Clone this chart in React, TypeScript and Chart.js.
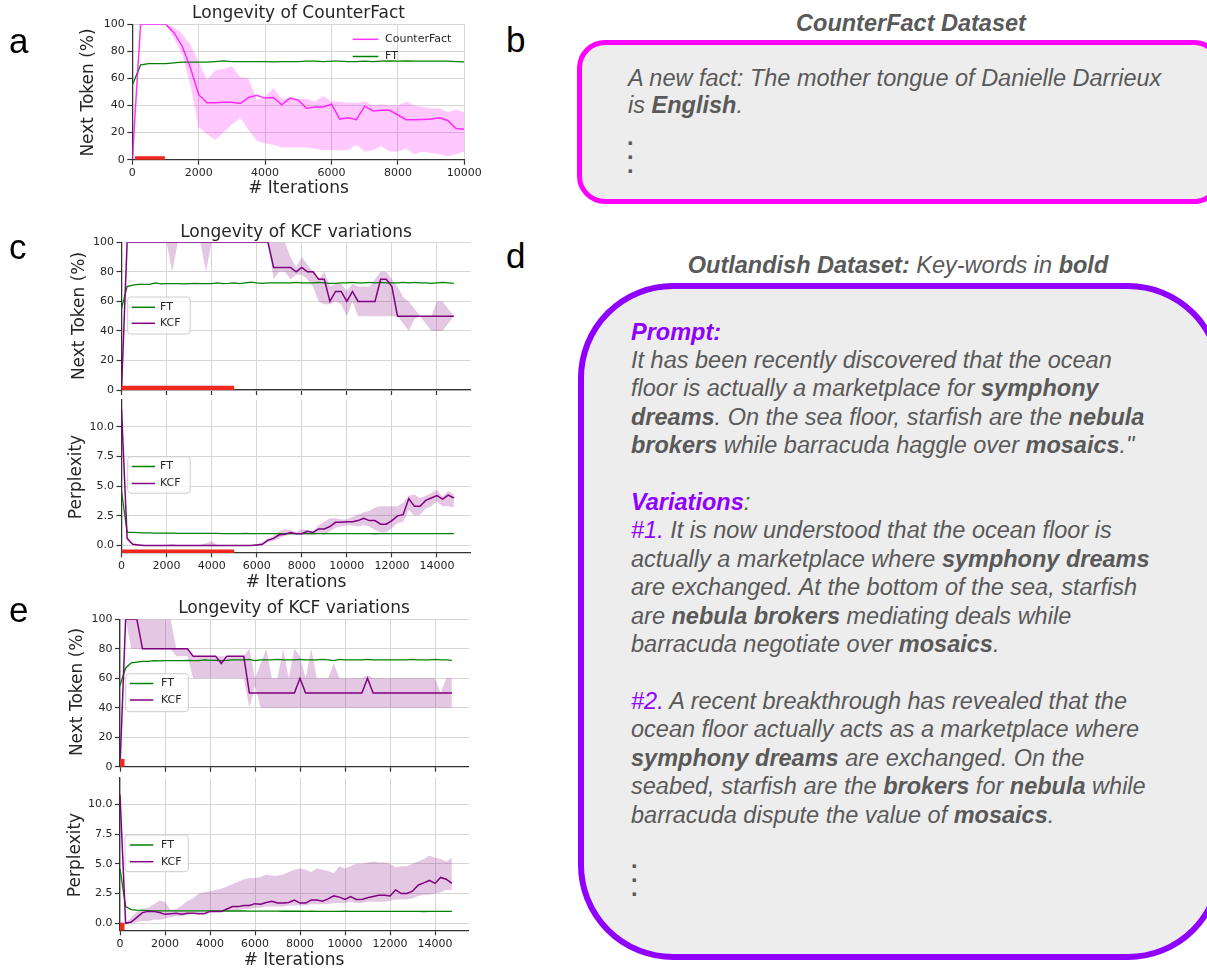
import React, { useEffect, useRef } from "react";
import { Chart, registerables } from "chart.js";
Chart.register(...registerables);

// ---------------- data ----------------
const SERIES_CF = "CounterFact";
const SERIES_FT = "FT";
const SERIES_KCF = "KCF";

const ITER_A = [
  0, 250, 500, 750, 1000, 1250, 1500, 1750, 2000, 2250, 2500, 2750, 3000, 3250, 3500, 3750, 4000, 4250, 4500, 4750,
  5000, 5250, 5500, 5750, 6000, 6250, 6500, 6750, 7000, 7250, 7500, 7750, 8000, 8250, 8500, 8750, 9000, 9250, 9500,
  9750, 10000,
];
const ITER_K = [
  0, 250, 500, 750, 1000, 1250, 1500, 1750, 2000, 2250, 2500, 2750, 3000, 3250, 3500, 3750, 4000, 4250, 4500, 4750,
  5000, 5250, 5500, 5750, 6000, 6250, 6500, 6750, 7000, 7250, 7500, 7750, 8000, 8250, 8500, 8750, 9000, 9250, 9500,
  9750, 10000, 10250, 10500, 10750, 11000, 11250, 11500, 11750, 12000, 12250, 12500, 12750, 13000, 13250, 13500,
  13750, 14000, 14250, 14500, 14750,
];

const X_TICKS_A = [0, 2000, 4000, 6000, 8000, 10000];
const X_TICKS_K = [0, 2000, 4000, 6000, 8000, 10000, 12000, 14000];
const Y_TICKS_PCT = [0, 20, 40, 60, 80, 100];
const Y_TICKS_PPL = [0.0, 2.5, 5.0, 7.5, 10.0];

// panel a
const CF_MEAN = [0, 100, 100, 100, 100, 94, 84, 68, 48, 42, 42, 42.5, 42.5, 41.5, 46, 47.5, 45.5, 46, 40.5, 45.5, 44, 38, 39, 39, 41, 30, 31, 29.5, 39.5, 36, 36.5, 36.5, 33, 29.5, 29.5, 29.7, 30, 31, 29, 23, 22.5];
const CF_UPPER = [0, 100, 100, 100, 100, 98, 93, 85, 72, 59, 66, 67, 69, 61, 60, 44, 46.5, 53, 45, 46, 45, 45, 43, 47, 43, 43, 42, 42, 43, 40, 41, 40, 40, 43, 40, 39, 38, 38, 35, 37, 35];
const CF_LOWER = [0, 100, 100, 100, 100, 90, 78, 55, 24, 19, 14.5, 20, 26, 31, 22, 14, 12, 11, 9, 9, 9, 9, 8, 7, 7, 7, 7, 11, 6, 7, 10, 6, 6, 8, 4, 6, 5, 4, 2.5, 4, 6];
const FT_A = [55, 70, 71, 71, 71, 71.5, 72, 72, 72, 72, 72.5, 73, 72.5, 72.5, 72.5, 72.5, 72.5, 72.2, 72.5, 72.5, 72.5, 72.8, 72.8, 72.5, 72.8, 72.8, 72.5, 72.5, 72.8, 72.5, 72.8, 73, 72.8, 73, 72.8, 72.8, 72.8, 72.8, 72.8, 72.5, 72.3];
const RED_A = [80, 980];
const RED_A_LEVEL = 1.3;

// panel c (top: next token, bottom: perplexity)
const KCF_C_TOKEN = [0,
  100, 100, 100, 100, 100, 100, 100, 100, 100, 100, 100, 100, 100, 100, 100, 100, 100, 100, 100, 100, 100, 100, 100, 100, 100, 100,
  83, 83, 83, 83, 80, 83, 80, 80, 75, 75, 60, 66.7, 66.7, 60, 66.7, 60, 60, 60, 60, 75, 75, 70,
  50, 50, 50, 50, 50, 50, 50, 50, 50, 50, 50];
const KCF_C_TOKEN_UP = [0,
  100, 100, 100, 100, 100, 100, 100, 100, 100, 100, 100, 100, 100, 100, 100, 100, 100, 100, 100, 100, 100, 100, 100, 100, 100, 100, 100, 100, 100,
  90, 83, 90, 85, 80, 75, 80, 70, 72, 72, 67, 72, 70, 70, 70, 75, 80, 80, 75, 70, 63, 60, 55, 50, 50, 50, 60, 60, 55, 50];
const KCF_C_TOKEN_LO = [0,
  100, 100, 100, 100, 100, 100, 100, 100, 80, 100, 100, 100, 100, 100, 80, 100, 100, 100, 100, 100, 100, 100, 100, 100, 100, 100,
  75, 80, 80, 75, 78, 78, 75, 70, 60, 58, 58, 60, 58, 50, 60, 50,
  50, 50, 50, 50, 50, 50, 50,
  45, 40, 48, 50, 45, 40, 40, 40, 45, 50];
const FT_C_TOKEN = [55, 70, 71, 71.5, 71.5, 71.5, 72.5, 71.8, 72, 72, 72, 71.8, 72, 72.2, 72, 72, 72, 72.5, 72, 72.2, 72.5, 72, 72.5, 73, 72.5, 72.2, 72.5, 72.5, 72.5, 72.5, 72.5, 72.8, 72.5, 72.5, 72.5, 72.8, 72.5, 72.2, 72.2, 72.5, 72.5, 72.8, 72.5, 72.5, 72.8, 72.5, 72.8, 72.5, 72.5, 72.5, 72.8, 72.5, 72.8, 72.5, 72.5, 72.2, 72.5, 72.8, 72.5, 72.2];

const KCF_C_PPL = [11.5, 0.6, 0.1, 0.05,
  0, 0, 0, 0, 0, 0, 0, 0, 0, 0, 0, 0, 0, 0, 0, 0, 0, 0, 0, 0,
  0.05, 0.1, 0.45, 0.6, 0.9, 0.95, 1.1, 1.0, 1.0, 1.2, 1.1, 1.4, 1.4, 1.6, 1.95, 1.95, 2.0, 2.0, 2.1, 2.3, 2.1, 2.1, 1.8, 1.8, 2.1, 2.5, 2.6, 3.95, 3.3, 3.3, 3.8, 4.0, 4.2, 3.9, 4.25, 4.0];
const KCF_C_PPL_UP = [11.5, 0.8, 0.15, 0.1,
  0.05, 0.05, 0.05, 0.05, 0.05, 0.15, 0.05, 0.05, 0.05, 0.05, 0.05, 0.2, 0.35, 0.05, 0.05, 0.05, 0.05, 0.05, 0.05, 0.05,
  0.1, 0.3, 0.6, 0.8, 1.2, 1.4, 1.3, 1.1, 1.4, 1.3, 1.2, 1.7, 2.0, 2.3, 2.3, 2.2, 2.2, 2.4, 2.6, 2.8, 2.9, 3.2, 3.3, 3.3, 3.3, 3.3, 3.6, 4.2, 4.3, 4.0, 4.2, 4.4, 4.7, 4.1, 4.6, 4.3];
const KCF_C_PPL_LO = [11.5, 0.4, 0.02,
  0, 0, 0, 0, 0, 0, 0, 0, 0, 0, 0, 0, 0, 0, 0, 0, 0, 0, 0, 0, 0,
  0, 0, 0.3, 0.4, 0.6, 0.8, 0.9, 0.9, 0.9, 0.9, 0.9, 1.0, 0.9, 1.2, 1.5, 1.6, 1.7, 1.7, 1.6, 1.7, 1.6, 1.3, 1.1, 1.1, 1.5, 1.9, 2.0, 3.0, 2.5, 2.6, 3.1, 3.3, 3.7, 3.3, 3.3, 3.2];
const FT_C_PPL = [4.6, 1.1, 1.1, 1.08, 1.07, 1.06, 1.05, 1.05, 1.04, 1.04, 1.03, 1.03, 1.03, 1.02, 1.02, 1.02, 1.02, 1.02, 1.01, 1.01, 1.01, 1.01, 1.02, 1.01, 1.01, 1.01, 1.01, 1.0, 1.0, 1.0, 1.01, 1.0, 1.0, 1.0, 1.0, 1.0, 1.01, 1.0, 1.0, 1.0, 1.0, 1.0, 1.0, 1.0, 1.0, 0.99, 1.0, 1.0, 1.0, 1.0, 1.0, 1.0, 1.0, 1.0, 1.0, 1.0, 1.0, 1.0, 1.0, 1.0];
const RED_C = [0, 5000];
const RED_C_TOKEN_LEVEL = 1.5;
const RED_C_PPL_LEVEL = -0.48;

// panel e
const KCF_E_TOKEN = [0, 100, 100, 100, 80, 80, 80, 80, 80, 80, 80, 80, 80, 75, 75, 75, 75, 75, 70, 75, 75, 75, 75, 50, 50, 50, 50, 50, 50, 50, 50, 50, 60, 50, 50, 50, 50, 50, 50, 50, 50, 50, 50, 50, 60, 50, 50, 50, 50, 50, 50, 50, 50, 50, 50, 50, 50, 50, 50, 50];
const KCF_E_TOKEN_UP = [0, 100, 100, 100, 100, 100, 100, 100, 100, 100, 80, 80, 80, 75, 75, 75, 75, 75, 75, 75, 75, 75, 75, 80, 60, 70, 80, 60, 60, 80, 60, 80, 75, 60, 80, 60, 60, 60, 70, 60, 60, 60, 60, 60, 62, 60, 60, 60, 60, 60, 60, 60, 60, 60, 60, 60, 60, 50, 60, 60];
const KCF_E_TOKEN_LO = [0, 100, 80, 80, 80, 80, 80, 80, 80, 80, 75, 75, 75, 60, 60, 60, 60, 60, 60, 60, 60, 60, 60, 40, 55, 40, 40, 40, 40, 40, 40, 40, 40, 40, 40, 40, 40, 40, 40, 40, 40, 40, 40, 40, 40, 40, 40, 40, 40, 40, 40, 40, 40, 40, 40, 40, 40, 40, 40, 40];
const FT_E_TOKEN = [55, 67, 70.5, 71, 71.5, 71.5, 72, 71.8, 72, 72, 72, 72, 72.2, 72, 72, 72.5, 72.2, 72.2, 72, 72.2, 72.5, 72.5, 72.5, 72.8, 72, 72.5, 72.5, 72.5, 72.8, 72.5, 72.5, 72.5, 72.8, 72.5, 72.5, 72.5, 72.8, 72.5, 72, 72.8, 72.5, 72.5, 72.5, 72.5, 72.8, 72.5, 72.5, 72.5, 72.5, 72.5, 72.5, 72.5, 72.8, 72.5, 72.5, 72.5, 72.8, 72.5, 72.5, 72.2];

const KCF_E_PPL = [10.8, 0.0, 0.1, 0.5, 0.9, 1.0, 1.0, 0.9, 0.75, 0.8, 0.85, 0.75, 0.85, 0.85, 0.8, 0.8, 1.0, 1.0, 1.0, 1.2, 1.4, 1.4, 1.5, 1.5, 1.65, 1.6, 1.75, 1.85, 1.7, 1.7, 1.75, 1.95, 1.7, 1.7, 1.95, 1.95, 1.85, 2.05, 2.3, 2.2, 2.0, 2.25, 2.0, 2.0, 2.15, 2.25, 2.35, 2.35, 2.3, 2.8, 2.5, 2.5, 2.7, 3.2, 3.4, 3.6, 3.35, 3.85, 3.7, 3.35];
const KCF_E_PPL_UP = [10.8, 0.0, 0.5, 1.0, 1.2, 1.3, 1.6, 1.9, 1.8, 1.1, 1.2, 1.5, 1.9, 2.1, 2.5, 2.6, 2.7, 2.8, 2.9, 3.1, 3.3, 3.5, 3.7, 3.8, 3.8, 3.9, 4.1, 4.0, 4.0, 4.1, 4.3, 4.5, 4.6, 4.5, 4.3, 4.6, 4.5, 4.4, 4.2, 4.8, 4.6, 4.8, 5.0, 5.0, 5.1, 5.2, 5.1, 5.1, 5.0, 4.7, 4.8, 4.8, 5.0, 5.2, 5.4, 5.7, 5.5, 5.4, 5.2, 5.5];
const KCF_E_PPL_LO = [10.8, 0.0, 0.0, 0.1, 0.2, 0.2, 0.3, 0.3, 0.4, 0.5, 0.6, 0.6, 0.7, 0.8, 0.8, 0.8, 0.9, 0.95, 1.0, 1.1, 1.1, 1.1, 1.2, 1.2, 1.3, 1.3, 1.4, 1.4, 1.4, 1.4, 1.5, 1.5, 1.5, 1.5, 1.6, 1.6, 1.6, 1.6, 1.7, 1.7, 1.7, 1.8, 1.7, 1.7, 1.8, 1.8, 1.8, 1.8, 1.9, 2.0, 2.0, 2.0, 2.1, 2.3, 2.4, 2.4, 2.5, 2.6, 2.8, 2.8];
const FT_E_PPL = [4.6, 1.4, 1.15, 1.1, 1.08, 1.06, 1.05, 1.05, 1.05, 1.05, 1.05, 1.05, 1.05, 1.04, 1.04, 1.04, 1.04, 1.04, 1.03, 1.03, 1.03, 1.03, 1.03, 1.02, 1.02, 1.02, 1.02, 1.02, 1.02, 1.01, 1.01, 1.01, 1.01, 1.0, 1.01, 1.0, 1.0, 1.0, 1.0, 1.0, 1.01, 1.0, 1.0, 1.0, 1.0, 1.0, 1.0, 1.0, 1.0, 1.0, 1.0, 1.0, 1.0, 1.0, 0.99, 1.0, 1.0, 1.0, 1.0, 1.0];
const RED_E = [0, 200];
const RED_E_TOKEN_LEVEL = 2.6;
const RED_E_PPL_LEVEL = -0.27;

// ---------------- styles ----------------
const FONT = '"DejaVu Sans", sans-serif';
const INK = "#262626";
const GRID = "#d6d6d6";
const SPINE = "#333333";
const C_MAGENTA = "rgba(255,0,255,0.8)";
const C_MAGENTA_BAND = "rgba(255,0,255,0.21)";
const C_PURPLE = "#800080";
const C_PURPLE_BAND = "rgba(128,0,128,0.22)";
const C_GREEN = "#008000";
const C_RED = "#f0281e";
Chart.defaults.font.family = FONT;

const xy = (xs: number[], ys: number[]) => xs.map((x, i) => ({ x, y: ys[i] }));

function bandSets(xs: number[], up: number[], lo: number[], color: string) {
  return [
    { label: "_up", data: xy(xs, up), borderColor: "transparent", borderWidth: 0, backgroundColor: color, fill: "+1", pointRadius: 0, order: 10 },
    { label: "_lo", data: xy(xs, lo), borderColor: "transparent", borderWidth: 0, backgroundColor: "transparent", fill: false, pointRadius: 0, order: 11 },
  ];
}
function lineSet(label: string, xs: number[], ys: number[], color: string, w: number, order: number) {
  return { label, data: xy(xs, ys), borderColor: color, borderWidth: w, fill: false, pointRadius: 0, order };
}
function redSet(span: number[], level: number, w: number) {
  return { label: "_red", data: span.map((x) => ({ x, y: level })), borderColor: C_RED, borderWidth: w, fill: false, pointRadius: 0, clip: false, order: 0 };
}

type Spec = {
  id: string;
  canvas: { x: number; y: number; w: number; h: number };
  area: { left: number; top: number; right: number; bottom: number };
  x: { min: number; max: number; ticks: number[]; labels: boolean };
  y: { min: number; max: number; ticks: number[]; fmt: (v: number) => string };
  texts: { text: string; x: number; y: number; rot?: boolean }[];
  legend: {
    frame?: { x: number; y: number; w: number; h: number };
    hx0: number; hx1: number; tx: number;
    rows: { label: string; color: string; y: number }[];
  };
  datasets: any[];
};

function makeDeco(s: Spec) {
  return {
    id: "deco",
    afterDraw(chart: any) {
      const ctx = chart.ctx as CanvasRenderingContext2D;
      const ox = s.canvas.x, oy = s.canvas.y;
      ctx.save();
      for (const t of s.texts) {
        ctx.save();
        ctx.translate(t.x - ox, t.y - oy);
        if (t.rot) ctx.rotate(-Math.PI / 2);
        ctx.font = `17px ${FONT}`;
        ctx.fillStyle = INK;
        ctx.textAlign = "center";
        ctx.textBaseline = "middle";
        ctx.fillText(t.text, 0, 0);
        ctx.restore();
      }
      const L = s.legend;
      if (L.frame) {
        ctx.beginPath();
        (ctx as any).roundRect(L.frame.x - ox, L.frame.y - oy, L.frame.w, L.frame.h, 3);
        ctx.fillStyle = "rgba(255,255,255,0.8)";
        ctx.fill();
        ctx.strokeStyle = "#cccccc";
        ctx.lineWidth = 1;
        ctx.stroke();
      }
      ctx.font = `11px ${FONT}`;
      ctx.textAlign = "left";
      ctx.textBaseline = "middle";
      for (const r of L.rows) {
        ctx.beginPath();
        ctx.moveTo(L.hx0 - ox, r.y - oy);
        ctx.lineTo(L.hx1 - ox, r.y - oy);
        ctx.strokeStyle = r.color;
        ctx.lineWidth = 1.5;
        ctx.stroke();
        ctx.fillStyle = INK;
        ctx.fillText(r.label, L.tx - ox, r.y - oy);
      }
      ctx.restore();
    },
  };
}

function buildConfig(s: Spec): any {
  const c = s.canvas, a = s.area;
  const grid = { color: GRID, lineWidth: 1, tickLength: 5, tickColor: SPINE, tickWidth: 1.2, drawTicks: true };
  const border = { display: true, color: SPINE, width: 1.25 };
  return {
    type: "line",
    data: { datasets: s.datasets },
    options: {
      responsive: false,
      maintainAspectRatio: false,
      animation: false,
      devicePixelRatio: 1,
      events: [],
      layout: { padding: { left: 0, top: a.top - c.y, right: c.x + c.w - a.right, bottom: 0 } },
      plugins: { legend: { display: false }, tooltip: { enabled: false }, title: { display: false } },
      elements: { line: { tension: 0 }, point: { radius: 0 } },
      scales: {
        x: {
          type: "linear",
          min: s.x.min,
          max: s.x.max,
          afterBuildTicks: (sc: any) => { sc.ticks = s.x.ticks.map((v) => ({ value: v })); },
          ticks: {
            autoSkip: false, maxRotation: 0, minRotation: 0, padding: 2, color: INK,
            font: { size: 11, family: FONT },
            callback: (v: any) => (s.x.labels ? String(v) : ""),
          },
          grid,
          border,
          afterFit: (sc: any) => { sc.height = c.y + c.h - a.bottom; },
        },
        y: {
          type: "linear",
          min: s.y.min,
          max: s.y.max,
          afterBuildTicks: (sc: any) => { sc.ticks = s.y.ticks.map((v) => ({ value: v })); },
          ticks: {
            autoSkip: false, padding: 2.5, color: INK,
            font: { size: 11, family: FONT },
            callback: (v: any) => s.y.fmt(Number(v)),
          },
          grid,
          border,
          afterFit: (sc: any) => { sc.width = a.left - c.x; },
        },
      },
    },
    plugins: [makeDeco(s)],
  };
}

const pct = (v: number) => String(Math.round(v));
const ppl = (v: number) => v.toFixed(1);

const SPECS: Spec[] = [
  {
    id: "a",
    canvas: { x: 0, y: 0, w: 500, h: 200 },
    area: { left: 132.3, top: 24.3, right: 464.3, bottom: 159.7 },
    x: { min: 0, max: 10000, ticks: X_TICKS_A, labels: true },
    y: { min: 0, max: 100, ticks: Y_TICKS_PCT, fmt: pct },
    texts: [
      { text: "Longevity of CounterFact", x: 298.5, y: 14 },
      { text: "# Iterations", x: 298.5, y: 189 },
      { text: "Next Token (%)", x: 89, y: 92.5, rot: true },
    ],
    legend: {
      hx0: 352.7, hx1: 378.3, tx: 385,
      rows: [
        { label: SERIES_CF, color: C_MAGENTA, y: 39.3 },
        { label: SERIES_FT, color: C_GREEN, y: 56.5 },
      ],
    },
    datasets: [
      redSet(RED_A, RED_A_LEVEL, 3.5),
      lineSet(SERIES_CF, ITER_A, CF_MEAN, C_MAGENTA, 1.5, 1),
      lineSet(SERIES_FT, ITER_A, FT_A, C_GREEN, 1.3, 2),
      ...bandSets(ITER_A, CF_UPPER, CF_LOWER, C_MAGENTA_BAND),
    ],
  },
  {
    id: "c1",
    canvas: { x: 0, y: 215, w: 500, h: 190 },
    area: { left: 121.5, top: 242.3, right: 470.75, bottom: 390 },
    x: { min: 0, max: 15500, ticks: X_TICKS_K, labels: false },
    y: { min: 0, max: 100, ticks: Y_TICKS_PCT, fmt: pct },
    texts: [
      { text: "Longevity of KCF variations", x: 296, y: 232.5 },
      { text: "Next Token (%)", x: 80, y: 316, rot: true },
    ],
    legend: {
      frame: { x: 127.7, y: 297, w: 62.5, h: 37 },
      hx0: 131.7, hx1: 155, tx: 160,
      rows: [
        { label: SERIES_FT, color: C_GREEN, y: 307.3 },
        { label: SERIES_KCF, color: C_PURPLE, y: 323.3 },
      ],
    },
    datasets: [
      redSet(RED_C, RED_C_TOKEN_LEVEL, 4.3),
      lineSet(SERIES_KCF, ITER_K, KCF_C_TOKEN, C_PURPLE, 1.5, 1),
      lineSet(SERIES_FT, ITER_K, FT_C_TOKEN, C_GREEN, 1.3, 2),
      ...bandSets(ITER_K, KCF_C_TOKEN_UP, KCF_C_TOKEN_LO, C_PURPLE_BAND),
    ],
  },
  {
    id: "c2",
    canvas: { x: 0, y: 385, w: 500, h: 210 },
    area: { left: 121.5, top: 400, right: 470.75, bottom: 552.3 },
    x: { min: 0, max: 15500, ticks: X_TICKS_K, labels: true },
    y: { min: -0.57, max: 12.25, ticks: Y_TICKS_PPL, fmt: ppl },
    texts: [
      { text: "# Iterations", x: 296, y: 582.5 },
      { text: "Perplexity", x: 76.5, y: 477, rot: true },
    ],
    legend: {
      frame: { x: 127.7, y: 456.7, w: 62.5, h: 36.5 },
      hx0: 131.7, hx1: 155, tx: 160,
      rows: [
        { label: SERIES_FT, color: C_GREEN, y: 466.5 },
        { label: SERIES_KCF, color: C_PURPLE, y: 483.5 },
      ],
    },
    datasets: [
      redSet(RED_C, RED_C_PPL_LEVEL, 3.5),
      lineSet(SERIES_KCF, ITER_K, KCF_C_PPL, C_PURPLE, 1.5, 1),
      lineSet(SERIES_FT, ITER_K, FT_C_PPL, C_GREEN, 1.3, 2),
      ...bandSets(ITER_K, KCF_C_PPL_UP, KCF_C_PPL_LO, C_PURPLE_BAND),
    ],
  },
  {
    id: "e1",
    canvas: { x: 0, y: 590, w: 500, h: 190 },
    area: { left: 120, top: 619.3, right: 468.75, bottom: 766.7 },
    x: { min: 0, max: 15500, ticks: X_TICKS_K, labels: false },
    y: { min: 0, max: 100, ticks: Y_TICKS_PCT, fmt: pct },
    texts: [
      { text: "Longevity of KCF variations", x: 294, y: 609 },
      { text: "Next Token (%)", x: 78, y: 692, rot: true },
    ],
    legend: {
      frame: { x: 125.7, y: 673.7, w: 62.6, h: 38 },
      hx0: 130, hx1: 153.3, tx: 161,
      rows: [
        { label: SERIES_FT, color: C_GREEN, y: 683.5 },
        { label: SERIES_KCF, color: C_PURPLE, y: 700 },
      ],
    },
    datasets: [
      redSet(RED_E, RED_E_TOKEN_LEVEL, 7.7),
      lineSet(SERIES_KCF, ITER_K, KCF_E_TOKEN, C_PURPLE, 1.5, 1),
      lineSet(SERIES_FT, ITER_K, FT_E_TOKEN, C_GREEN, 1.3, 2),
      ...bandSets(ITER_K, KCF_E_TOKEN_UP, KCF_E_TOKEN_LO, C_PURPLE_BAND),
    ],
  },
  {
    id: "e2",
    canvas: { x: 0, y: 765, w: 500, h: 205 },
    area: { left: 120, top: 778, right: 468.75, bottom: 930.3 },
    x: { min: 0, max: 15500, ticks: X_TICKS_K, labels: true },
    y: { min: -0.59, max: 12.21, ticks: Y_TICKS_PPL, fmt: ppl },
    texts: [
      { text: "# Iterations", x: 294, y: 960.5 },
      { text: "Perplexity", x: 75.5, y: 855, rot: true },
    ],
    legend: {
      frame: { x: 125, y: 835, w: 63.3, h: 36.7 },
      hx0: 130, hx1: 153.3, tx: 161,
      rows: [
        { label: SERIES_FT, color: C_GREEN, y: 845 },
        { label: SERIES_KCF, color: C_PURPLE, y: 861.7 },
      ],
    },
    datasets: [
      redSet(RED_E, RED_E_PPL_LEVEL, 7.6),
      lineSet(SERIES_KCF, ITER_K, KCF_E_PPL, C_PURPLE, 1.5, 1),
      lineSet(SERIES_FT, ITER_K, FT_E_PPL, C_GREEN, 1.3, 2),
      ...bandSets(ITER_K, KCF_E_PPL_UP, KCF_E_PPL_LO, C_PURPLE_BAND),
    ],
  },
];

function ChartPanel({ spec }: { spec: Spec }) {
  const ref = useRef<HTMLCanvasElement>(null);
  useEffect(() => {
    const chart = new Chart(ref.current as HTMLCanvasElement, buildConfig(spec));
    return () => chart.destroy();
  }, [spec]);
  const c = spec.canvas;
  return (
    <canvas
      ref={ref}
      width={c.w}
      height={c.h}
      style={{ position: "absolute", left: c.x, top: c.y, width: c.w, height: c.h }}
    />
  );
}

// ---------------- text panels ----------------
const SANS = '"Liberation Sans", Arial, Helvetica, sans-serif';
const TXT = "#595959";
const VIOLET = "#8f00ff";
const DARK_GREEN = "#38761d";

const B = ({ children }: { children: React.ReactNode }) => <span style={{ fontWeight: 700 }}>{children}</span>;
const V = ({ children, bold }: { children: React.ReactNode; bold?: boolean }) => (
  <span style={{ color: VIOLET, fontWeight: bold ? 700 : 400 }}>{children}</span>
);

function Letter({ ch, x, baseline }: { ch: string; x: number; baseline: number }) {
  return (
    <div style={{ position: "absolute", left: x, top: baseline - 29.6, font: `35px ${SANS}`, lineHeight: "35px", color: "#000" }}>
      {ch}
    </div>
  );
}

const lineStyle: React.CSSProperties = { whiteSpace: "nowrap" };

export default function App() {
  return (
    <div style={{ position: "fixed", left: 0, top: 0, width: 1207, height: 970, overflow: "hidden", background: "#ffffff" }}>
      {SPECS.map((s) => (
        <ChartPanel key={s.id} spec={s} />
      ))}

      <Letter ch="a" x={9} baseline={53} />
      <Letter ch="b" x={506} baseline={52} />
      <Letter ch="c" x={9} baseline={259} />
      <Letter ch="d" x={506} baseline={268} />
      <Letter ch="e" x={9} baseline={622} />

      {/* b: CounterFact dataset */}
      <div style={{ position: "absolute", left: 611, top: 9.4, width: 600, textAlign: "center", font: `italic 700 23.5px ${SANS}`, lineHeight: "28px", color: TXT, whiteSpace: "nowrap" }}>
        CounterFact Dataset
      </div>
      <div style={{ position: "absolute", left: 577, top: 40, width: 645, height: 164, boxSizing: "border-box", border: "5px solid #ff00ff", borderRadius: 28, background: "#ededed" }} />
      <div style={{ position: "absolute", left: 628, top: 64.8, font: `italic 400 23.5px ${SANS}`, lineHeight: "27.5px", color: TXT }}>
        <div style={lineStyle}>A new fact: The mother tongue of Danielle Darrieux</div>
        <div style={lineStyle}>is <B>English</B>.</div>
      </div>
      <div style={{ position: "absolute", left: 627, top: 129.5, font: `700 23.5px ${SANS}`, lineHeight: "14px", color: TXT }}>
        <div>.</div>
        <div>.</div>
        <div>.</div>
      </div>

      {/* d: Outlandish dataset */}
      <div style={{ position: "absolute", left: 598, top: 251.2, width: 600, textAlign: "center", font: `italic 400 23.5px ${SANS}`, lineHeight: "28px", color: TXT, whiteSpace: "nowrap" }}>
        <B>Outlandish Dataset:</B> Key-words in <B>bold</B>
      </div>
      <div style={{ position: "absolute", left: 578, top: 283, width: 645, height: 677, boxSizing: "border-box", border: `6px solid ${VIOLET}`, borderRadius: 95, background: "#ededed" }} />
      <div style={{ position: "absolute", left: 631, top: 317.65, font: `italic 400 23.5px ${SANS}`, lineHeight: "28.4px", color: TXT }}>
        <div style={lineStyle}><V bold>Prompt:</V></div>
        <div style={lineStyle}>It has been recently discovered that the ocean</div>
        <div style={lineStyle}>floor is actually a marketplace for <B>symphony</B></div>
        <div style={lineStyle}><B>dreams</B>. On the sea floor, starfish are the <B>nebula</B></div>
        <div style={lineStyle}><B>brokers</B> while barracuda haggle over <B>mosaics</B>."</div>
        <div style={lineStyle}>&nbsp;</div>
        <div style={lineStyle}><V bold>Variations</V><span style={{ color: DARK_GREEN }}>:</span></div>
        <div style={lineStyle}><V>#1.</V> It is now understood that the ocean floor is</div>
        <div style={lineStyle}>actually a marketplace where <B>symphony dreams</B></div>
        <div style={lineStyle}>are exchanged. At the bottom of the sea, starfish</div>
        <div style={lineStyle}>are <B>nebula brokers</B> mediating deals while</div>
        <div style={lineStyle}>barracuda negotiate over <B>mosaics</B>.</div>
        <div style={lineStyle}>&nbsp;</div>
        <div style={lineStyle}><V>#2.</V> A recent breakthrough has revealed that the</div>
        <div style={lineStyle}>ocean floor actually acts as a marketplace where</div>
        <div style={lineStyle}><B>symphony dreams</B> are exchanged. On the</div>
        <div style={lineStyle}>seabed, starfish are the <B>brokers</B> for <B>nebula</B> while</div>
        <div style={lineStyle}>barracuda dispute the value of <B>mosaics</B>.</div>
      </div>
      <div style={{ position: "absolute", left: 631, top: 852.5, font: `700 23.5px ${SANS}`, lineHeight: "14px", color: TXT }}>
        <div>.</div>
        <div>.</div>
        <div>.</div>
      </div>
    </div>
  );
}
